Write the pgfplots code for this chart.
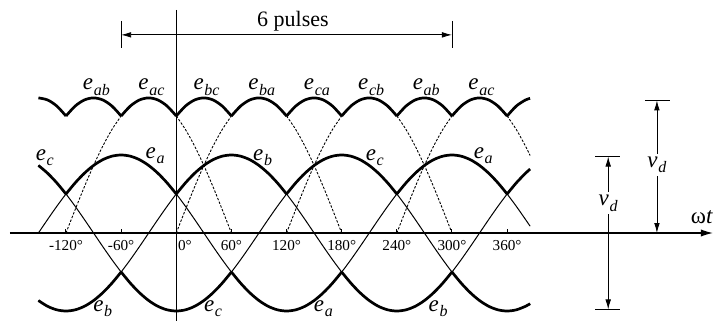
\documentclass[border=0pt]{standalone}
\usepackage{fontspec}
\setmainfont{Liberation Serif}
\usepackage{pgfplots}
\pgfplotsset{compat=1.18}
\usepackage{pgfplotstable}
\usetikzlibrary{arrows.meta}

% symbol with an italic subscript, set in text italics
\newcommand{\sym}[2]{\textit{#1}\kern0.03em\raisebox{-0.5ex}{\fontsize{8}{9}\selectfont\textit{#2}}}

% phase voltages (per unit of peak phase voltage) and the upper envelope of the line voltages
\pgfplotstableread{
t    ea      eb      ec      env
-150 0       -0.8660 0.8660  1.7321
-140 0.1736  -0.9397 0.7660  1.7057
-130 0.3420  -0.9848 0.6428  1.6276
-120 0.5     -1      0.5     1.5
-110 0.6428  -0.9848 0.3420  1.6276
-100 0.7660  -0.9397 0.1736  1.7057
-90  0.8660  -0.8660 0       1.7321
-80  0.9397  -0.7660 -0.1736 1.7057
-70  0.9848  -0.6428 -0.3420 1.6276
-60  1       -0.5    -0.5    1.5
-50  0.9848  -0.3420 -0.6428 1.6276
-40  0.9397  -0.1736 -0.7660 1.7057
-30  0.8660  0       -0.8660 1.7321
-20  0.7660  0.1736  -0.9397 1.7057
-10  0.6428  0.3420  -0.9848 1.6276
0    0.5     0.5     -1      1.5
10   0.3420  0.6428  -0.9848 1.6276
20   0.1736  0.7660  -0.9397 1.7057
30   0       0.8660  -0.8660 1.7321
40   -0.1736 0.9397  -0.7660 1.7057
50   -0.3420 0.9848  -0.6428 1.6276
60   -0.5    1       -0.5    1.5
70   -0.6428 0.9848  -0.3420 1.6276
80   -0.7660 0.9397  -0.1736 1.7057
90   -0.8660 0.8660  0       1.7321
100  -0.9397 0.7660  0.1736  1.7057
110  -0.9848 0.6428  0.3420  1.6276
120  -1      0.5     0.5     1.5
130  -0.9848 0.3420  0.6428  1.6276
140  -0.9397 0.1736  0.7660  1.7057
150  -0.8660 0       0.8660  1.7321
160  -0.7660 -0.1736 0.9397  1.7057
170  -0.6428 -0.3420 0.9848  1.6276
180  -0.5    -0.5    1       1.5
190  -0.3420 -0.6428 0.9848  1.6276
200  -0.1736 -0.7660 0.9397  1.7057
210  0       -0.8660 0.8660  1.7321
220  0.1736  -0.9397 0.7660  1.7057
230  0.3420  -0.9848 0.6428  1.6276
240  0.5     -1      0.5     1.5
250  0.6428  -0.9848 0.3420  1.6276
260  0.7660  -0.9397 0.1736  1.7057
270  0.8660  -0.8660 0       1.7321
280  0.9397  -0.7660 -0.1736 1.7057
290  0.9848  -0.6428 -0.3420 1.6276
300  1       -0.5    -0.5    1.5
310  0.9848  -0.3420 -0.6428 1.6276
320  0.9397  -0.1736 -0.7660 1.7057
330  0.8660  0       -0.8660 1.7321
340  0.7660  0.1736  -0.9397 1.7057
350  0.6428  0.3420  -0.9848 1.6276
360  0.5     0.5     -1      1.5
370  0.3420  0.6428  -0.9848 1.6276
380  0.1736  0.7660  -0.9397 1.7057
385  0.0872  0.8192  -0.9063 1.7255
}\phases

\begin{document}
\begin{tikzpicture}[
  thinw/.style={black, line width=0.5pt, smooth},
  thickw/.style={black, line width=1.35pt, smooth},
  dashw/.style={black, line width=0.45pt, smooth, dash pattern=on 1.2pt off 0.8pt},
  lbl/.style={font=\fontsize{11.5}{13}\selectfont, inner sep=0pt},
  tck/.style={font=\fontsize{7.6}{9}\selectfont, inner sep=0pt},
]
\begin{axis}[
  scale only axis, width=357.5pt, height=160.5pt,
  xmin=-191.8, xmax=586.2, ymin=-1.128, ymax=2.987,
  axis lines=none, clip=false,
]
\coordinate (BL) at (rel axis cs:0,0);
\coordinate (TR) at (rel axis cs:1,1);

% axes
\draw[line width=0.6pt, -{Latex[length=6pt,width=3.6pt]}] (axis cs:-181,0) -- (axis cs:584,0);
\draw[line width=0.5pt] (axis cs:0,2.86) -- (axis cs:0,-1.2);
\pgfplotsinvokeforeach{-120,-60,60,120,180,240,300,360}{
  \draw[line width=0.5pt] (axis cs:#1,0) -- (axis cs:#1,0.05);
  \node[tck] at (axis cs:#1,-0.16) {#1°};
}
\node[tck, anchor=west] at (axis cs:1.5,-0.16) {0°};

% phase voltages, thin throughout
\addplot[thinw] table[x=t,y=ea]{\phases};
\addplot[thinw] table[x=t,y=eb]{\phases};
\addplot[thinw] table[x=t,y=ec]{\phases};

% phase voltages where they are the highest or the lowest
\addplot[thickw, restrict x to domain=-120:0]   table[x=t,y=ea]{\phases};
\addplot[thickw, restrict x to domain=60:180]   table[x=t,y=ea]{\phases};
\addplot[thickw, restrict x to domain=240:360]  table[x=t,y=ea]{\phases};
\addplot[thickw, restrict x to domain=-150:-60] table[x=t,y=eb]{\phases};
\addplot[thickw, restrict x to domain=0:120]    table[x=t,y=eb]{\phases};
\addplot[thickw, restrict x to domain=180:300]  table[x=t,y=eb]{\phases};
\addplot[thickw, restrict x to domain=360:385]  table[x=t,y=eb]{\phases};
\addplot[thickw, restrict x to domain=-150:-120] table[x=t,y=ec]{\phases};
\addplot[thickw, restrict x to domain=-60:60]   table[x=t,y=ec]{\phases};
\addplot[thickw, restrict x to domain=120:240]  table[x=t,y=ec]{\phases};
\addplot[thickw, restrict x to domain=300:385]  table[x=t,y=ec]{\phases};

% upper envelope of the line voltages, one arc per 60 degrees
\addplot[thickw, restrict x to domain=-150:-120] table[x=t,y=env]{\phases};
\addplot[thickw, restrict x to domain=-120:-60]  table[x=t,y=env]{\phases};
\addplot[thickw, restrict x to domain=-60:0]     table[x=t,y=env]{\phases};
\addplot[thickw, restrict x to domain=0:60]      table[x=t,y=env]{\phases};
\addplot[thickw, restrict x to domain=60:120]    table[x=t,y=env]{\phases};
\addplot[thickw, restrict x to domain=120:180]   table[x=t,y=env]{\phases};
\addplot[thickw, restrict x to domain=180:240]   table[x=t,y=env]{\phases};
\addplot[thickw, restrict x to domain=240:300]   table[x=t,y=env]{\phases};
\addplot[thickw, restrict x to domain=300:360]   table[x=t,y=env]{\phases};
\addplot[thickw, restrict x to domain=360:385]   table[x=t,y=env]{\phases};

% line voltages outside the envelope (dashed)
% e_ac
\addplot[dashw] coordinates {(-120,0) (-110,0.3008) (-100,0.5924) (-90,0.8660) (-80,1.1133) (-70,1.3268) (-60,1.5)};
\addplot[dashw] coordinates {(0,1.5) (10,1.3268) (20,1.1133) (30,0.8660) (40,0.5924) (50,0.3008) (60,0)};
\addplot[dashw] coordinates {(240,0) (250,0.3008) (260,0.5924) (270,0.8660) (280,1.1133) (290,1.3268) (300,1.5)};
\addplot[dashw] coordinates {(360,1.5) (370,1.3268) (380,1.1133) (385,0.9935)};
% e_ba
\addplot[dashw] coordinates {(0,0) (10,0.3008) (20,0.5924) (30,0.8660) (40,1.1133) (50,1.3268) (60,1.5)};
\addplot[dashw] coordinates {(120,1.5) (130,1.3268) (140,1.1133) (150,0.8660) (160,0.5924) (170,0.3008) (180,0)};
% e_cb
\addplot[dashw] coordinates {(120,0) (130,0.3008) (140,0.5924) (150,0.8660) (160,1.1133) (170,1.3268) (180,1.5)};
\addplot[dashw] coordinates {(240,1.5) (250,1.3268) (260,1.1133) (270,0.8660) (280,0.5924) (290,0.3008) (300,0)};

% line-voltage labels
\node[lbl] at (axis cs:-87,1.87) {\sym{e}{ab}};
\node[lbl] at (axis cs:-27,1.87) {\sym{e}{ac}};
\node[lbl] at (axis cs:33,1.87)  {\sym{e}{bc}};
\node[lbl] at (axis cs:93,1.87)  {\sym{e}{ba}};
\node[lbl] at (axis cs:153,1.87) {\sym{e}{ca}};
\node[lbl] at (axis cs:212,1.87) {\sym{e}{cb}};
\node[lbl] at (axis cs:272,1.87) {\sym{e}{ab}};
\node[lbl] at (axis cs:332,1.87) {\sym{e}{ac}};

% phase-voltage labels
\node[lbl] at (axis cs:-143,0.97) {\sym{e}{c}};
\node[lbl] at (axis cs:-23,0.99)  {\sym{e}{a}};
\node[lbl] at (axis cs:94,0.97)   {\sym{e}{b}};
\node[lbl] at (axis cs:216,0.97)  {\sym{e}{c}};
\node[lbl] at (axis cs:334,0.99)  {\sym{e}{a}};
\node[lbl] at (axis cs:-80,-0.97) {\sym{e}{b}};
\node[lbl] at (axis cs:40,-0.97)  {\sym{e}{c}};
\node[lbl] at (axis cs:160,-0.97) {\sym{e}{a}};
\node[lbl] at (axis cs:285,-0.97) {\sym{e}{b}};

% six-pulse span
\draw[line width=0.45pt] (axis cs:-60,2.72) -- (axis cs:-60,2.37);
\draw[line width=0.45pt] (axis cs:300,2.72) -- (axis cs:300,2.37);
\draw[line width=0.4pt, {Latex[length=5pt,width=2.8pt]}-{Latex[length=5pt,width=2.8pt]}] (axis cs:-60,2.54) -- (axis cs:300,2.54);
\node[font=\fontsize{11}{12}\selectfont, inner sep=0pt] at (axis cs:127,2.71) {6 pulses};

% output voltage of the bridge
\draw[line width=0.45pt] (axis cs:510,1.70) -- (axis cs:537,1.70);
\draw[line width=0.4pt, {Latex[length=5pt,width=2.8pt]}-{Latex[length=5pt,width=2.8pt]}] (axis cs:523,1.70) -- (axis cs:523,0);
\node[lbl, fill=white, inner sep=1.5pt] at (axis cs:523,0.87) {\sym{v}{d}};

% output voltage of each half
\draw[line width=0.45pt] (axis cs:456,0.98) -- (axis cs:483,0.98);
\draw[line width=0.45pt] (axis cs:456,-0.98) -- (axis cs:483,-0.98);
\draw[line width=0.4pt, {Latex[length=5pt,width=2.8pt]}-{Latex[length=5pt,width=2.8pt]}] (axis cs:470,0.98) -- (axis cs:470,-0.98);
\node[lbl, fill=white, inner sep=1.5pt] at (axis cs:470,0.38) {\sym{v}{d}};

\node[lbl] at (axis cs:572,0.20) {ω\textit{t}};
\end{axis}
\pgfresetboundingbox
\useasboundingbox (BL) rectangle (TR);
\end{tikzpicture}
\end{document}
